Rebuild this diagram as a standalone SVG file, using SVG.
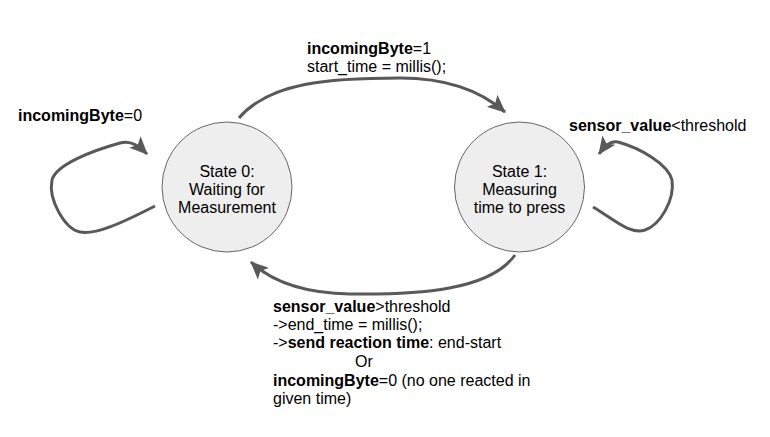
<svg xmlns="http://www.w3.org/2000/svg" width="770" height="437" viewBox="0 0 770 437">
<style>
text{font-family:"Liberation Sans",Arial,sans-serif;font-size:16px;fill:#000}
.b{font-weight:bold}
.st{fill:#eeeeee;stroke:#666666;stroke-width:1}
.c{text-anchor:middle}
.e{fill:none;stroke:#595959;stroke-width:3;marker-end:url(#ah)}
</style>
<defs>
<marker id="ah" markerUnits="userSpaceOnUse" markerWidth="20" markerHeight="16" viewBox="0 0 20 16" refX="17" refY="8" orient="auto">
<path d="M0,0 L18,8 L0,16 L4,8 Z" fill="#595959"/>
</marker>
</defs>
<rect width="770" height="437" fill="#ffffff"/>
<g id="connectors">
<path class="e" d="M239,118 C270,82 330,78 400,78 C450,78 482,92 505,112"/>
<path class="e" d="M515,255 C490,290 420,295 350,294 C300,293 270,280 251,262"/>
<path class="e" d="M155,206 C120,224 95,235 80,232 C65,229 48,200 52,180 C56,164 95,150 120,143 C132,140 140,147 147,154"/>
<path class="e" d="M593,207 C615,220 630,235 645,230 C660,225 675,200 672,180 C668,164 640,148 618,142 C610,140 604,147 599,154"/>
</g>
<g id="state0">
<circle class="st" cx="227" cy="187" r="65"/>
<text class="c" x="227" y="177">State 0:</text>
<text class="c" x="227" y="195">Waiting for</text>
<text class="c" x="227" y="213">Measurement</text>
</g>
<g id="state1">
<circle class="st" cx="519.5" cy="187" r="65"/>
<text class="c" x="519.5" y="177">State 1:</text>
<text class="c" x="519.5" y="195">Measuring</text>
<text class="c" x="519.5" y="213">time to press</text>
</g>
<g id="labels">
<text x="18" y="121"><tspan class="b">incomingByte</tspan>=0</text>
<text x="307" y="54"><tspan class="b">incomingByte</tspan>=1</text>
<text x="307" y="72">start_time = millis();</text>
<text x="569" y="131"><tspan class="b">sensor_value</tspan>&lt;threshold</text>
<text x="273" y="312"><tspan class="b">sensor_value</tspan>&gt;threshold</text>
<text x="273" y="330">-&gt;end_time = millis();</text>
<text x="273" y="348">-&gt;<tspan class="b">send reaction time</tspan>: end-start</text>
<text x="355" y="367">Or</text>
<text x="273" y="386"><tspan class="b">incomingByte</tspan>=0 (no one reacted in</text>
<text x="273" y="404">given time)</text>
</g>
</svg>
